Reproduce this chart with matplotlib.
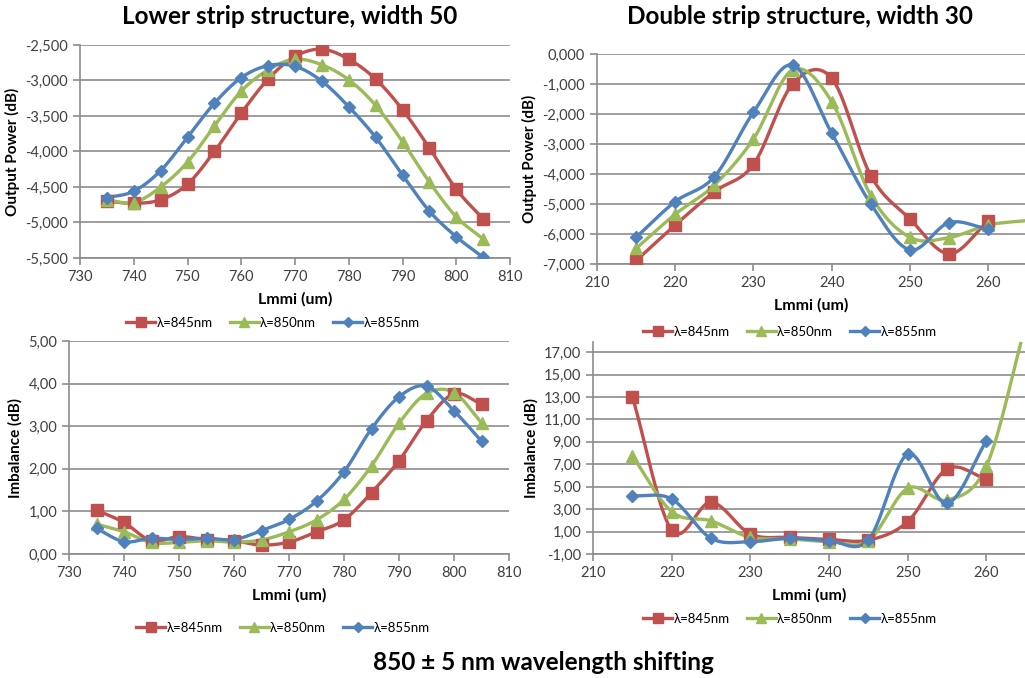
import numpy as np
import matplotlib.pyplot as plt
from matplotlib.ticker import FuncFormatter

plt.rcParams['font.family'] = ['Lato', 'DejaVu Sans']

# Lower strip, width 50
lmmi_50 = [735, 740, 745, 750, 755, 760, 765, 770, 775, 780, 785, 790, 795, 800, 805]
power_50_845 = [-4.70, -4.73, -4.68, -4.46, -4.00, -3.46, -2.98, -2.66, -2.56, -2.70, -2.98, -3.41, -3.95, -4.53, -4.95]
power_50_850 = [-4.68, -4.72, -4.50, -4.15, -3.64, -3.15, -2.85, -2.70, -2.78, -2.99, -3.35, -3.86, -4.43, -4.92, -5.23]
power_50_855 = [-4.65, -4.56, -4.27, -3.80, -3.32, -2.96, -2.79, -2.80, -3.01, -3.37, -3.80, -4.33, -4.84, -5.20, -5.49]
imb_50_845 = [1.03, 0.74, 0.31, 0.41, 0.34, 0.31, 0.21, 0.28, 0.52, 0.80, 1.44, 2.19, 3.13, 3.76, 3.52]
imb_50_850 = [0.70, 0.52, 0.27, 0.27, 0.31, 0.28, 0.33, 0.52, 0.80, 1.28, 2.07, 3.07, 3.77, 3.79, 3.08]
imb_50_855 = [0.60, 0.29, 0.37, 0.34, 0.37, 0.34, 0.55, 0.81, 1.24, 1.93, 2.94, 3.69, 3.94, 3.36, 2.65]

# Double strip, width 30
lmmi_30 = [215, 220, 225, 230, 235, 240, 245, 250, 255, 260]
lmmi_30_ext = [215, 220, 225, 230, 235, 240, 245, 250, 255, 260, 265]
power_30_845 = [-6.89, -5.70, -4.59, -3.68, -1.00, -0.81, -4.06, -5.50, -6.66, -5.57]
power_30_850 = [-6.48, -5.34, -4.37, -2.83, -0.53, -1.59, -4.72, -6.11, -6.12, -5.70, -5.55]
power_30_855 = [-6.11, -4.92, -4.09, -1.94, -0.37, -2.64, -5.00, -6.53, -5.62, -5.84]
imb_30_845 = [13.04, 1.14, 3.61, 0.78, 0.48, 0.30, 0.24, 1.89, 6.58, 5.69]
imb_30_850 = [7.75, 2.78, 1.95, 0.49, 0.34, 0.10, 0.19, 4.86, 3.82, 6.85, 19.5]
imb_30_855 = [4.20, 3.90, 0.40, 0.10, 0.40, 0.19, 0.25, 7.90, 3.52, 9.08]

labels = ['λ=845nm', 'λ=850nm', 'λ=855nm']
colors = ['#C0504D', '#9BBB59', '#4F81BD']
markers = ['s', '^', 'D']
msizes = [8, 8, 6]

W, H = 1025, 678
fig = plt.figure(figsize=(W / 100, H / 100), dpi=100)


def box(x0, y0, x1, y1):
    return [x0 / W, 1 - y1 / H, (x1 - x0) / W, (y1 - y0) / H]


def smooth(x, y, n=30):
    # Catmull-Rom path through the points, like a spreadsheet "smoothed line"
    x = np.asarray(x, float)
    y = np.asarray(y, float)
    px = np.concatenate([[2 * x[0] - x[1]], x, [2 * x[-1] - x[-2]]])
    py = np.concatenate([[2 * y[0] - y[1]], y, [2 * y[-1] - y[-2]]])
    t = np.linspace(0, 1, n)
    xs, ys = [], []
    for i in range(1, len(px) - 2):
        for p, out in ((px, xs), (py, ys)):
            p0, p1, p2, p3 = p[i - 1], p[i], p[i + 1], p[i + 2]
            out.append(0.5 * (2 * p1 + (-p0 + p2) * t
                              + (2 * p0 - 5 * p1 + 4 * p2 - p3) * t ** 2
                              + (-p0 + 3 * p1 - 3 * p2 + p3) * t ** 3))
    return np.concatenate(xs), np.concatenate(ys)


def comma(decimals):
    return FuncFormatter(lambda v, pos: f'{v:.{decimals}f}'.replace('.', ','))


def panel(rect, xs, series, xlim, ylim, yticks, ylabel, dec, leg_xy):
    ax = fig.add_axes(box(*rect))
    handles = []
    for x, y, c, m, ms, lab in zip(xs, series, colors, markers, msizes, labels):
        sx, sy = smooth(x, y)
        ax.plot(sx, sy, color=c, lw=2.4, zorder=3)
        keep = [i for i, v in enumerate(x) if v <= xlim[1]]
        ax.plot([x[i] for i in keep], [y[i] for i in keep], ls='none', marker=m,
                ms=ms, color=c, zorder=4)
        handles.append(plt.Line2D([], [], color=c, lw=2.4, marker=m, ms=ms - 1, label=lab))
    ax.set_xlim(*xlim)
    ax.set_ylim(*ylim)
    ax.set_yticks(yticks)
    ax.set_xticks(np.arange(np.ceil(xlim[0] / 10) * 10, xlim[1] + 0.01, 10))
    ax.yaxis.set_major_formatter(comma(dec))
    ax.grid(axis='y', color='#8c8c8c', lw=1.2)
    ax.set_axisbelow(True)
    for s in ['top', 'right']:
        ax.spines[s].set_visible(False)
    for s in ['left', 'bottom']:
        ax.spines[s].set_color('#8c8c8c')
        ax.spines[s].set_linewidth(1.2)
    ax.tick_params(colors='#8c8c8c', labelcolor='#404040', labelsize=10.5,
                   length=5, width=1.2)
    ax.set_xlabel('Lmmi (um)', fontsize=11.5, fontweight='bold', labelpad=6)
    ax.set_ylabel(ylabel, fontsize=11, fontweight='bold', labelpad=4)
    fig.legend(handles=handles, loc='center', ncol=3, frameon=False,
               bbox_to_anchor=(leg_xy[0] / W, 1 - leg_xy[1] / H), fontsize=9.5,
               handlelength=2.2, columnspacing=1.3, handletextpad=0.1)
    return ax


panel((80, 45, 510, 258), [lmmi_50] * 3, [power_50_845, power_50_850, power_50_855],
      (730, 810), (-5.5, -2.5), np.arange(-5.5, -2.49, 0.5), 'Output Power (dB)', 3, (273, 323))
panel((597, 54, 1025, 264), [lmmi_30, lmmi_30_ext, lmmi_30],
      [power_30_845, power_30_850, power_30_855],
      (210, 264.7), (-7, 0), np.arange(-7, 0.01, 1), 'Output Power (dB)', 3, (790, 332))
panel((69, 341, 509, 554), [lmmi_50] * 3, [imb_50_845, imb_50_850, imb_50_855],
      (730, 810), (0, 5), np.arange(0, 5.01, 1), 'Imbalance (dB)', 2, (283, 628))
panel((593, 342, 1025, 554), [lmmi_30, lmmi_30_ext, lmmi_30],
      [imb_30_845, imb_30_850, imb_30_855],
      (210, 264.9), (-1, 17.9), np.arange(-1, 17.01, 2), 'Imbalance (dB)', 2, (790, 619))

fig.text(290 / W, 1 - 17 / H, 'Lower strip structure, width 50', ha='center', va='center',
         fontsize=17.5, fontweight='bold')
fig.text(800 / W, 1 - 17 / H, 'Double strip structure, width 30', ha='center', va='center',
         fontsize=17.5, fontweight='bold')
fig.text(543 / W, 1 - 662 / H, '850 ± 5 nm wavelength shifting', ha='center', va='center',
         fontsize=17.5, fontweight='bold')

fig.savefig('out.png', dpi=100)
